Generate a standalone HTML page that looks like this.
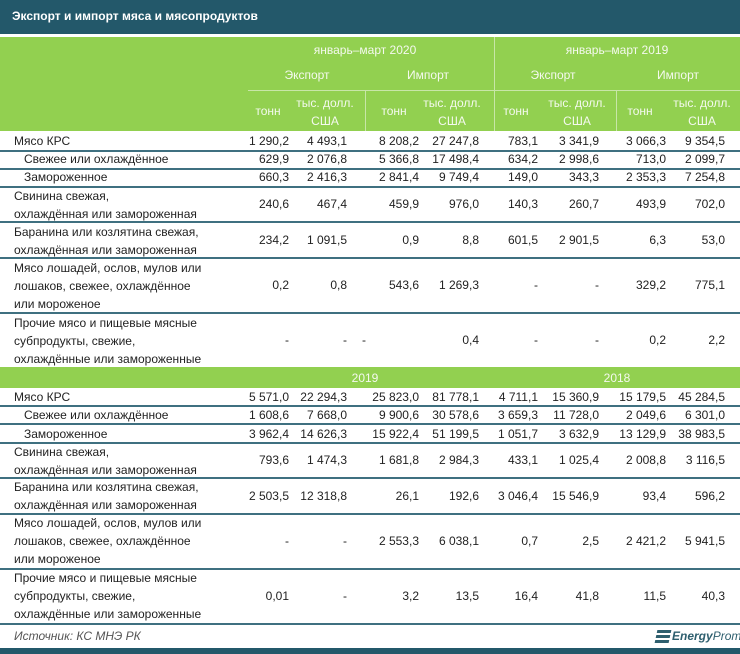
<!DOCTYPE html>
<html><head><meta charset="utf-8"><style>
body{margin:0;width:740px;height:654px;background:#fff;position:relative;overflow:hidden;font-family:"Liberation Sans",sans-serif;font-size:12px;color:#222}
div{position:absolute}
.t{white-space:nowrap}
.n{white-space:nowrap;text-align:right;width:80px}
.h{color:#f4f9ee;white-space:nowrap;text-align:center;width:120px;font-size:12px}
.ln{left:0;width:740px;height:1.5px;background:#3f7080}
.lb{left:14px;white-space:nowrap;line-height:18px}
</style></head><body>
<div style="left:0;top:0;width:740px;height:34px;background:#23586a"></div>
<div class="t" style="left:12px;top:9px;color:#fff;font-weight:bold;font-size:12px">Экспорт и импорт мяса и мясопродуктов</div>
<div style="left:0;top:37px;width:740px;height:94px;background:#92d050"></div>
<div style="left:248px;top:90px;width:492px;height:1px;background:#c8e6a8"></div>
<div style="left:494px;top:37px;width:1px;height:94px;background:#c8e6a8"></div>
<div style="left:365px;top:91px;width:1px;height:40px;background:#c8e6a8"></div>
<div style="left:616px;top:91px;width:1px;height:40px;background:#c8e6a8"></div>
<div class="h" style="left:305px;top:43px">январь–март 2020</div>
<div class="h" style="left:557px;top:43px">январь–март 2019</div>
<div class="h" style="left:247px;top:68px">Экспорт</div>
<div class="h" style="left:368px;top:68px">Импорт</div>
<div class="h" style="left:493px;top:68px">Экспорт</div>
<div class="h" style="left:618px;top:68px">Импорт</div>
<div class="h" style="left:208px;top:104px">тонн</div>
<div class="h" style="left:334px;top:104px">тонн</div>
<div class="h" style="left:456px;top:104px">тонн</div>
<div class="h" style="left:580px;top:104px">тонн</div>
<div class="h" style="left:265px;top:94px;line-height:18px">тыс. долл.<br>США</div>
<div class="h" style="left:392px;top:94px;line-height:18px">тыс. долл.<br>США</div>
<div class="h" style="left:517px;top:94px;line-height:18px">тыс. долл.<br>США</div>
<div class="h" style="left:642px;top:94px;line-height:18px">тыс. долл.<br>США</div>

<div style="left:0;top:367px;width:740px;height:21px;background:#92d050"></div>
<div class="h" style="left:305px;top:371px">2019</div>
<div class="h" style="left:557px;top:371px">2018</div>

<!-- lines -->
<div class="ln" style="top:150px"></div><div class="ln" style="top:168px"></div><div class="ln" style="top:186px"></div>
<div class="ln" style="top:221px"></div><div class="ln" style="top:257px"></div><div class="ln" style="top:312px"></div>
<div class="ln" style="top:405px"></div><div class="ln" style="top:423px"></div><div class="ln" style="top:442px"></div>
<div class="ln" style="top:477px"></div><div class="ln" style="top:513px"></div><div class="ln" style="top:568px"></div>
<div class="ln" style="top:623px"></div>

<!-- block 1 labels -->
<div class="lb" style="top:132px">Мясо КРС</div>
<div class="lb" style="top:150px;left:24px">Свежее или охлаждённое</div>
<div class="lb" style="top:168px;left:24px">Замороженное</div>
<div class="lb" style="top:187px">Свинина свежая,<br>охлаждённая или замороженная</div>
<div class="lb" style="top:223px">Баранина или козлятина свежая,<br>охлаждённая или замороженная</div>
<div class="lb" style="top:259px">Мясо лошадей, ослов, мулов или<br>лошаков, свежее, охлаждённое<br>или мороженое</div>
<div class="lb" style="top:314px">Прочие мясо и пищевые мясные<br>субпродукты, свежие,<br>охлаждённые или замороженные</div>
<!-- block 2 labels -->
<div class="lb" style="top:388px">Мясо КРС</div>
<div class="lb" style="top:406px;left:24px">Свежее или охлаждённое</div>
<div class="lb" style="top:425px;left:24px">Замороженное</div>
<div class="lb" style="top:443px">Свинина свежая,<br>охлаждённая или замороженная</div>
<div class="lb" style="top:478px">Баранина или козлятина свежая,<br>охлаждённая или замороженная</div>
<div class="lb" style="top:514px">Мясо лошадей, ослов, мулов или<br>лошаков, свежее, охлаждённое<br>или мороженое</div>
<div class="lb" style="top:569px">Прочие мясо и пищевые мясные<br>субпродукты, свежие,<br>охлаждённые или замороженные</div>

<!-- numbers: right edges 289,347,419,479,538,599,666,725 -->
<div id="nums"></div>
<div class="n" style="left:209px;top:134px">1 290,2</div><div class="n" style="left:267px;top:134px">4 493,1</div><div class="n" style="left:339px;top:134px">8 208,2</div><div class="n" style="left:399px;top:134px">27 247,8</div><div class="n" style="left:458px;top:134px">783,1</div><div class="n" style="left:519px;top:134px">3 341,9</div><div class="n" style="left:586px;top:134px">3 066,3</div><div class="n" style="left:645px;top:134px">9 354,5</div>
<div class="n" style="left:209px;top:152px">629,9</div><div class="n" style="left:267px;top:152px">2 076,8</div><div class="n" style="left:339px;top:152px">5 366,8</div><div class="n" style="left:399px;top:152px">17 498,4</div><div class="n" style="left:458px;top:152px">634,2</div><div class="n" style="left:519px;top:152px">2 998,6</div><div class="n" style="left:586px;top:152px">713,0</div><div class="n" style="left:645px;top:152px">2 099,7</div>
<div class="n" style="left:209px;top:170px">660,3</div><div class="n" style="left:267px;top:170px">2 416,3</div><div class="n" style="left:339px;top:170px">2 841,4</div><div class="n" style="left:399px;top:170px">9 749,4</div><div class="n" style="left:458px;top:170px">149,0</div><div class="n" style="left:519px;top:170px">343,3</div><div class="n" style="left:586px;top:170px">2 353,3</div><div class="n" style="left:645px;top:170px">7 254,8</div>
<div class="n" style="left:209px;top:197px">240,6</div><div class="n" style="left:267px;top:197px">467,4</div><div class="n" style="left:339px;top:197px">459,9</div><div class="n" style="left:399px;top:197px">976,0</div><div class="n" style="left:458px;top:197px">140,3</div><div class="n" style="left:519px;top:197px">260,7</div><div class="n" style="left:586px;top:197px">493,9</div><div class="n" style="left:645px;top:197px">702,0</div>
<div class="n" style="left:209px;top:233px">234,2</div><div class="n" style="left:267px;top:233px">1 091,5</div><div class="n" style="left:339px;top:233px">0,9</div><div class="n" style="left:399px;top:233px">8,8</div><div class="n" style="left:458px;top:233px">601,5</div><div class="n" style="left:519px;top:233px">2 901,5</div><div class="n" style="left:586px;top:233px">6,3</div><div class="n" style="left:645px;top:233px">53,0</div>
<div class="n" style="left:209px;top:278px">0,2</div><div class="n" style="left:267px;top:278px">0,8</div><div class="n" style="left:339px;top:278px">543,6</div><div class="n" style="left:399px;top:278px">1 269,3</div><div class="n" style="left:458px;top:278px">-</div><div class="n" style="left:519px;top:278px">-</div><div class="n" style="left:586px;top:278px">329,2</div><div class="n" style="left:645px;top:278px">775,1</div>
<div class="n" style="left:209px;top:333px">-</div><div class="n" style="left:267px;top:333px">-</div><div class="n" style="left:286px;top:333px">-</div><div class="n" style="left:399px;top:333px">0,4</div><div class="n" style="left:458px;top:333px">-</div><div class="n" style="left:519px;top:333px">-</div><div class="n" style="left:586px;top:333px">0,2</div><div class="n" style="left:645px;top:333px">2,2</div>

<div class="n" style="left:209px;top:390px">5 571,0</div><div class="n" style="left:267px;top:390px">22 294,3</div><div class="n" style="left:339px;top:390px">25 823,0</div><div class="n" style="left:399px;top:390px">81 778,1</div><div class="n" style="left:458px;top:390px">4 711,1</div><div class="n" style="left:519px;top:390px">15 360,9</div><div class="n" style="left:586px;top:390px">15 179,5</div><div class="n" style="left:645px;top:390px">45 284,5</div>
<div class="n" style="left:209px;top:408px">1 608,6</div><div class="n" style="left:267px;top:408px">7 668,0</div><div class="n" style="left:339px;top:408px">9 900,6</div><div class="n" style="left:399px;top:408px">30 578,6</div><div class="n" style="left:458px;top:408px">3 659,3</div><div class="n" style="left:519px;top:408px">11 728,0</div><div class="n" style="left:586px;top:408px">2 049,6</div><div class="n" style="left:645px;top:408px">6 301,0</div>
<div class="n" style="left:209px;top:427px">3 962,4</div><div class="n" style="left:267px;top:427px">14 626,3</div><div class="n" style="left:339px;top:427px">15 922,4</div><div class="n" style="left:399px;top:427px">51 199,5</div><div class="n" style="left:458px;top:427px">1 051,7</div><div class="n" style="left:519px;top:427px">3 632,9</div><div class="n" style="left:586px;top:427px">13 129,9</div><div class="n" style="left:645px;top:427px">38 983,5</div>
<div class="n" style="left:209px;top:453px">793,6</div><div class="n" style="left:267px;top:453px">1 474,3</div><div class="n" style="left:339px;top:453px">1 681,8</div><div class="n" style="left:399px;top:453px">2 984,3</div><div class="n" style="left:458px;top:453px">433,1</div><div class="n" style="left:519px;top:453px">1 025,4</div><div class="n" style="left:586px;top:453px">2 008,8</div><div class="n" style="left:645px;top:453px">3 116,5</div>
<div class="n" style="left:209px;top:489px">2 503,5</div><div class="n" style="left:267px;top:489px">12 318,8</div><div class="n" style="left:339px;top:489px">26,1</div><div class="n" style="left:399px;top:489px">192,6</div><div class="n" style="left:458px;top:489px">3 046,4</div><div class="n" style="left:519px;top:489px">15 546,9</div><div class="n" style="left:586px;top:489px">93,4</div><div class="n" style="left:645px;top:489px">596,2</div>
<div class="n" style="left:209px;top:534px">-</div><div class="n" style="left:267px;top:534px">-</div><div class="n" style="left:339px;top:534px">2 553,3</div><div class="n" style="left:399px;top:534px">6 038,1</div><div class="n" style="left:458px;top:534px">0,7</div><div class="n" style="left:519px;top:534px">2,5</div><div class="n" style="left:586px;top:534px">2 421,2</div><div class="n" style="left:645px;top:534px">5 941,5</div>
<div class="n" style="left:209px;top:589px">0,01</div><div class="n" style="left:267px;top:589px">-</div><div class="n" style="left:339px;top:589px">3,2</div><div class="n" style="left:399px;top:589px">13,5</div><div class="n" style="left:458px;top:589px">16,4</div><div class="n" style="left:519px;top:589px">41,8</div><div class="n" style="left:586px;top:589px">11,5</div><div class="n" style="left:645px;top:589px">40,3</div>

<div class="t" style="left:14px;top:629px;font-style:italic;color:#555;font-size:12px">Источник: КС МНЭ РК</div>
<div style="left:656px;top:630px;width:14px;height:13px;background:repeating-linear-gradient(#2e5f6e 0 3px,transparent 3px 5px);transform:skewX(-12deg)"></div>
<div class="t" style="left:672px;top:629px;font-style:italic;font-weight:bold;color:#2e5f6e;font-size:12px">Energy<span style="font-weight:normal">Prom</span></div>
<div style="left:0;top:648px;width:740px;height:6px;background:#23586a"></div>
</body></html>
